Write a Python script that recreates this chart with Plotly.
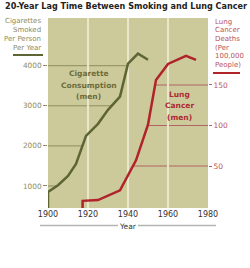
import numpy as np
import plotly.graph_objects as go

# ---- data ----
cig_years = [1900, 1900, 1905, 1910, 1914, 1916, 1919, 1920, 1925, 1930, 1936, 1940, 1945, 1950]
cig_values = [54, 850, 1020, 1250, 1550, 1850, 2250, 2300, 2550, 2900, 3230, 4050, 4300, 4150]

cancer_years = [1917.3, 1917.3, 1925, 1936, 1944, 1950, 1954, 1960, 1969, 1974]
cancer_values = [-10, 7, 8, 20, 57, 101, 156, 176, 186, 181]

x_ticks = [1900, 1920, 1940, 1960, 1980]
left_ticks = [1000, 2000, 3000, 4000]
right_ticks = [50, 100, 150]

left_title = ["Cigarettes", "Smoked", "Per Person", "Per Year"]
right_title = ["Lung", "Cancer", "Deaths", "(Per", "100,000", "People)"]
cig_label = ["Cigarette", "Consumption", "(men)"]
cancer_label = ["Lung", "Cancer", "(men)"]

GREEN = "#5d6535"
RED = "#b0232a"
GREEN_TXT = "#8c8b5e"
RED_TXT = "#b9525a"
BG = "#ccc99b"
FONT = "DejaVu Sans"

fig = go.Figure()
fig.add_trace(go.Scatter(x=cig_years, y=cig_values, mode="lines",
                         line=dict(color=GREEN, width=2.5), yaxis="y", hoverinfo="skip"))
fig.add_trace(go.Scatter(x=cancer_years, y=cancer_values, mode="lines",
                         line=dict(color=RED, width=2.5), yaxis="y2", hoverinfo="skip"))

shapes = []
# leader gridlines: green from left edge to green curve
peak = int(np.argmax(cig_values))
for t in left_ticks:
    xc = float(np.interp(t, cig_values[1:peak + 1], cig_years[1:peak + 1]))
    shapes.append(dict(type="line", xref="x", yref="y", x0=1900, x1=xc, y0=t, y1=t,
                       line=dict(color="#8f8d60", width=1), layer="below"))
rpeak = int(np.argmax(cancer_values))
for t in right_ticks:
    xc = float(np.interp(t, cancer_values[1:rpeak + 1], cancer_years[1:rpeak + 1]))
    shapes.append(dict(type="line", xref="x", yref="y2", x0=xc, x1=1980, y0=t, y1=t,
                       line=dict(color="#b26462", width=1), layer="below"))

W, H = 250, 268
ml, mr, mt, mb = 48, 42, 18, 60
pw, ph = W - ml - mr, H - mt - mb


def px(xp):
    return (xp - ml) / pw


def py(yp):
    return (H - mb - yp) / ph


# underlines of axis titles
shapes.append(dict(type="line", xref="paper", yref="paper", x0=px(13), x1=px(43), y0=py(55), y1=py(55),
                   line=dict(color=GREEN, width=2)))
shapes.append(dict(type="line", xref="paper", yref="paper", x0=px(213), x1=px(240), y0=py(73), y1=py(73),
                   line=dict(color=RED, width=2)))
# Year line
shapes.append(dict(type="line", xref="paper", yref="paper", x0=px(40), x1=px(118), y0=py(225.5), y1=py(225.5),
                   line=dict(color="#b4b4b4", width=1.5)))
shapes.append(dict(type="line", xref="paper", yref="paper", x0=px(138), x1=px(216), y0=py(225.5), y1=py(225.5),
                   line=dict(color="#b4b4b4", width=1.5)))

annotations = [
    dict(text="<b>20-Year Lag Time Between Smoking and Lung Cancer</b>", xref="paper", yref="paper",
         x=px(3), y=py(6.3), xanchor="left", yanchor="middle", showarrow=False,
         font=dict(family=FONT, size=8.1, color="#222222")),
    dict(text="Year", xref="paper", yref="paper", x=px(128), y=py(226), xanchor="center", yanchor="middle",
         showarrow=False, font=dict(family=FONT, size=7.5, color="#333333")),
]
for i, s in enumerate(left_title):
    annotations.append(dict(text=s, xref="paper", yref="paper", x=px(42.5), y=py(21.2 + 8.8 * i),
                            xanchor="right", yanchor="middle", showarrow=False,
                            font=dict(family=FONT, size=7, color=GREEN_TXT)))
for i, s in enumerate(right_title):
    annotations.append(dict(text=s, xref="paper", yref="paper", x=px(212.5), y=py(21.7 + 8.7 * i),
                            xanchor="left", yanchor="middle", showarrow=False,
                            font=dict(family=FONT, size=7, color=RED_TXT)))
for i, s in enumerate(cig_label):
    annotations.append(dict(text=f"<b>{s}</b>", xref="paper", yref="paper", x=px(88.5), y=py(73.5 + 11.7 * i),
                            xanchor="center", yanchor="middle", showarrow=False,
                            font=dict(family=FONT, size=7.5, color="#6c6c3a")))
for i, s in enumerate(cancer_label):
    annotations.append(dict(text=f"<b>{s}</b>", xref="paper", yref="paper", x=px(179.5), y=py(94 + 11.8 * i),
                            xanchor="center", yanchor="middle", showarrow=False,
                            font=dict(family=FONT, size=7.5, color="#ad2a33")))

fig.update_layout(
    width=W, height=H, margin=dict(l=ml, r=mr, t=mt, b=mb, pad=0),
    paper_bgcolor="white", plot_bgcolor=BG, showlegend=False,
    font=dict(family=FONT),
    xaxis=dict(range=[1900, 1980], tickvals=x_ticks, showgrid=True, gridcolor="#e9e7cb", gridwidth=1.5,
               zeroline=False, showline=False, ticks="", tickfont=dict(size=8, color="#333333"),
               fixedrange=True),
    yaxis=dict(range=[451, 5190], tickvals=left_ticks, showgrid=False, zeroline=False, showline=False,
               ticks="outside", ticklen=4, tickcolor="#8f8d60", tickwidth=1,
               tickfont=dict(size=7.3, color=GREEN_TXT), fixedrange=True),
    yaxis2=dict(range=[-1.85, 232.7], tickvals=right_ticks, overlaying="y", side="right", showgrid=False,
                zeroline=False, showline=False, ticks="outside", ticklen=3, tickcolor="#b26462",
                tickwidth=1, tickfont=dict(size=7.5, color=RED_TXT), fixedrange=True),
    shapes=shapes, annotations=annotations,
)

fig.write_html("out.html", config=dict(displayModeBar=False))
